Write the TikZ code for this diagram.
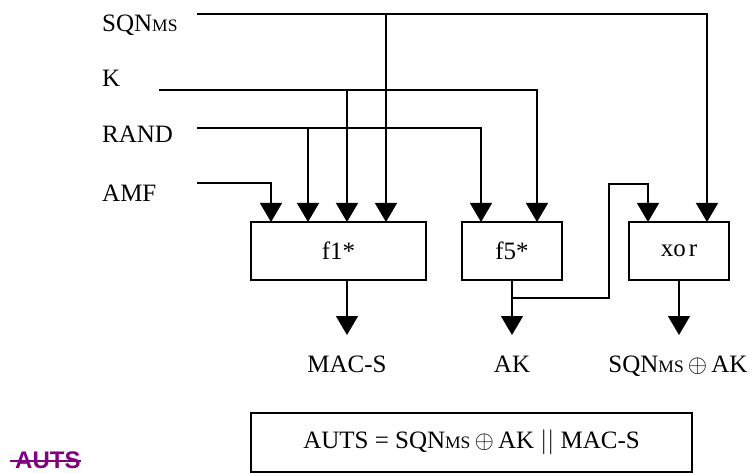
\documentclass[tikz,border=0pt]{standalone}
\usepackage{fontspec}
\setmainfont{Liberation Serif}
\newfontfamily\autsfont{Liberation Sans}
\usetikzlibrary{arrows.meta}
\definecolor{autspurple}{RGB}{128,0,128}
\newcommand{\ms}{{\fontsize{17.5}{20}\selectfont MS}}
\begin{document}
\begin{tikzpicture}[x=1pt,y=-1pt,
  every node/.style={font=\fontsize{25}{30}\selectfont},
  lbl/.style={inner sep=0pt,anchor=base west},
  olbl/.style={inner sep=0pt,anchor=base},
  fbox/.style={draw,line width=1.4pt,minimum height=58pt,inner sep=0pt},
  conn/.style={line width=1.4pt},
  arr/.style={conn,-{Triangle[width=22pt,length=19pt]}}]
\useasboundingbox (0,0) rectangle (752,473);
% input labels
\node[lbl] (sqn) at (102,31.5) {SQN\ms};
\node[lbl] (k) at (102,87) {K};
\node[lbl] (rand) at (102,143) {RAND};
\node[lbl] (amf) at (102,202) {AMF};
\coordinate (sqnS) at (197,14);
\coordinate (kS) at (159,90);
\coordinate (randS) at (197,128);
\coordinate (amfS) at (197,183);
% boxes
\node[fbox,minimum width=175pt] (f1) at (338.5,251) {f1*};
\node[fbox,minimum width=100pt] (f5) at (512,251) {f5*};
\node[fbox,minimum width=100pt] (xor) at (679,251) {xo\hspace{0.12em}r};
% input points
\coordinate (f1a) at (271,222);
\coordinate (f1b) at (308,222);
\coordinate (f1c) at (347,222);
\coordinate (f1d) at (386,222);
\coordinate (f5a) at (481,222);
\coordinate (f5b) at (537,222);
\coordinate (xora) at (648,222);
\coordinate (xorb) at (707,222);
% input connectors
\draw[arr] (sqnS) -| (xorb);
\draw[arr] (f1d |- sqnS) -- (f1d);
\draw[arr] (kS) -| (f5b);
\draw[arr] (f1c |- kS) -- (f1c);
\draw[arr] (randS) -| (f5a);
\draw[arr] (f1b |- randS) -- (f1b);
\draw[arr] (amfS) -| (f1a);
% outputs
\coordinate (f1o) at (347,335);
\coordinate (f5o) at (512,335);
\coordinate (xoro) at (679,335);
\coordinate (br) at (512,298);
\coordinate (lp) at (609,184);
\draw[arr] (f1.south -| f1o) -- (f1o);
\draw[arr] (f5.south) -- (f5o);
\draw[arr] (br) -| (lp) -| (xora);
\draw[arr] (xor.south -| xoro) -- (xoro);
\node[olbl] (mac) at (347,372) {MAC-S};
\node[olbl] (ak) at (512,372) {AK};
\node[olbl] (sxa) at (678,372) {SQN\ms\,$\oplus$\,AK};
% result box
\node[draw,line width=1.4pt,minimum width=441pt,minimum height=59pt,inner sep=0pt] (auts) at (471.5,442.5) {AUTS = SQN\ms\,$\oplus$\,AK $||$ MAC-S};
% purple label
\node[inner sep=0pt,anchor=base west,text=autspurple,font=\autsfont\bfseries\fontsize{24}{28}\selectfont] (autsl) at (15,468.5) {AUTS};
\draw[autspurple,line width=1.6pt] ([xshift=-5pt,yshift=-0.5pt]autsl.west) -- ([yshift=-0.5pt]autsl.east);
\end{tikzpicture}
\end{document}
